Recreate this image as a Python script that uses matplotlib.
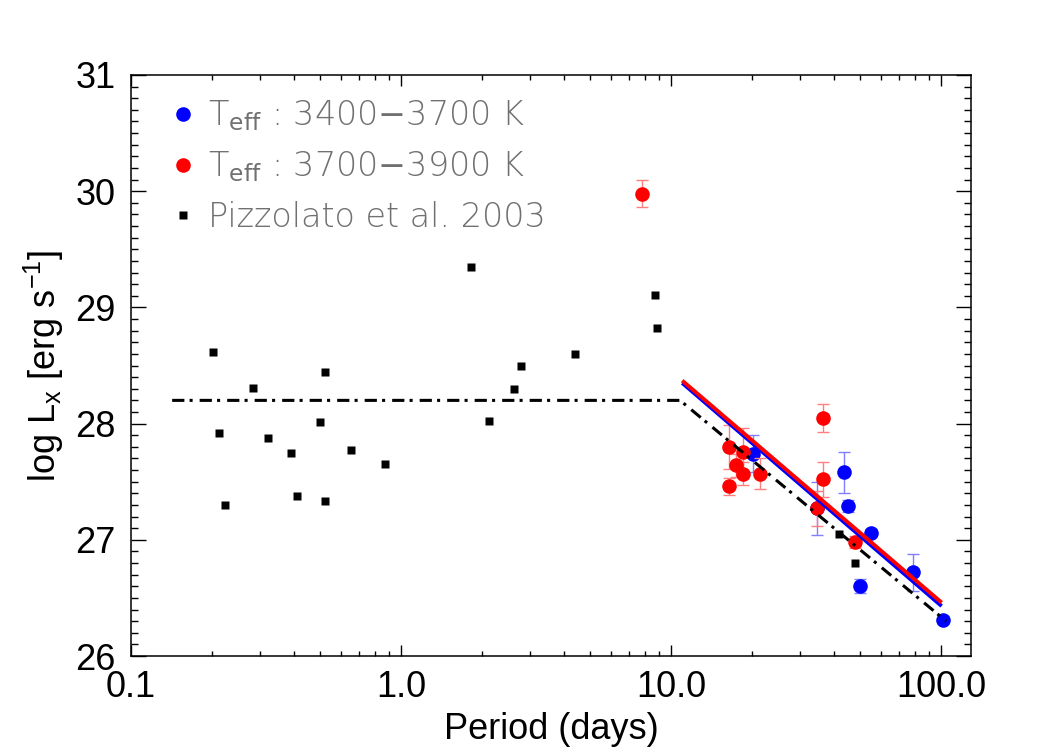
import numpy as np
import matplotlib
matplotlib.use("Agg")
import matplotlib.pyplot as plt
from matplotlib.lines import Line2D
from matplotlib.ticker import LogLocator, MultipleLocator, NullFormatter

plt.rcParams['font.family'] = ['Liberation Sans', 'DejaVu Sans']
plt.rcParams['mathtext.fontset'] = 'custom'
plt.rcParams['mathtext.rm'] = 'Liberation Sans'
plt.rcParams['mathtext.it'] = 'Liberation Sans:italic'

# Pizzolato et al. 2003 stars (period in days, log Lx)
piz_period = [0.202, 0.282, 0.211, 0.222, 0.321, 0.392, 0.413, 0.502, 0.524, 0.524,
              0.653, 0.875, 1.82, 2.12, 2.61, 2.79, 4.40, 8.75, 8.85, 42.0, 48.2]
piz_lx = [28.62, 28.31, 27.92, 27.30, 27.88, 27.75, 27.38, 28.01, 28.44, 27.33,
          27.77, 27.65, 29.35, 28.02, 28.30, 28.50, 28.60, 29.11, 28.82, 27.05, 26.80]

# Teff 3400-3700 K
blue_period = [20.2, 43.6, 45.1, 34.8, 55.1, 50.1, 78.5, 101.4]
blue_lx = [27.74, 27.58, 27.29, 27.27, 27.06, 26.60, 26.72, 26.31]
blue_err = [0.16, 0.18, 0.05, 0.23, 0.03, 0.06, 0.16, 0.03]

# Teff 3700-3900 K
red_period = [16.4, 16.4, 17.4, 18.5, 18.5, 21.3, 36.6, 36.6, 34.8, 48.2, 7.83]
red_lx = [27.80, 27.46, 27.64, 27.76, 27.57, 27.57, 28.05, 27.52, 27.27, 26.98, 29.98]
red_err = [0.19, 0.07, 0.10, 0.20, 0.10, 0.13, 0.12, 0.15, 0.15, 0.05, 0.12]

# relations
sat_period = [0.142, 10.8, 104.5]
sat_lx = [28.2, 28.2, 26.30]
bfit_period = [11.0, 100.5]
bfit_lx = [28.35, 26.43]
rfit_period = [11.0, 100.5]
rfit_lx = [28.37, 26.46]

fig = plt.figure(figsize=(10.5, 7.5), dpi=100)
ax = fig.add_axes([0.1248, 0.1253, 0.8, 0.7747])

ax.errorbar(blue_period, blue_lx, yerr=blue_err, fmt='none', ecolor='#7f7fff',
            elinewidth=1, capsize=4.5, capthick=1, zorder=2)
ax.plot(blue_period, blue_lx, 'o', color='#0000ff', ms=10.5, mec='none', zorder=3)
ax.errorbar(red_period, red_lx, yerr=red_err, fmt='none', ecolor='#ff7f7f',
            elinewidth=1, capsize=4.5, capthick=1, zorder=4)
ax.plot(red_period, red_lx, 'o', color='#ff0000', ms=10.5, mec='none', zorder=5)
ax.plot(piz_period, piz_lx, 's', color='black', ms=6, mec='none', zorder=6)

ax.plot(sat_period, sat_lx, color='black', lw=2.2, dashes=(4, 1.7, 1, 2.3), zorder=7)
ax.plot(bfit_period, bfit_lx, color='#0000ff', lw=2.8, solid_capstyle='butt', zorder=8)
ax.plot(rfit_period, rfit_lx, color='#ff0000', lw=2.8, solid_capstyle='butt', zorder=9)

ax.set_xscale('log')
ax.set_xlim(0.1, 10 ** (-1 + 840 / 270))
ax.set_ylim(26, 31)
ax.set_xticks([0.1, 1, 10, 100])
ax.set_xticklabels(['0.1', '1.0', '10.0', '100.0'])
ax.xaxis.set_minor_locator(LogLocator(base=10, subs=np.arange(2, 10)))
ax.xaxis.set_minor_formatter(NullFormatter())
ax.yaxis.set_major_locator(MultipleLocator(1))
ax.yaxis.set_minor_locator(MultipleLocator(0.1))

ax.tick_params(which='both', direction='in', top=True, right=True, width=1, labelsize=26)
ax.tick_params(axis='x', which='major', length=8, pad=10)
ax.tick_params(axis='x', which='minor', length=3.5)
ax.tick_params(axis='y', which='major', length=11, pad=11)
ax.tick_params(axis='y', which='minor', length=5)
for s in ax.spines.values():
    s.set_linewidth(1.1)

ax.set_xlabel('Period (days)', fontsize=26, labelpad=5)
ax.set_ylabel(r'log L$_{\rm x}$ [erg $\rm s^{-1}$]', fontsize=26, labelpad=7)

handles = [
    Line2D([], [], ls='none', marker='o', color='#0000ff', ms=10.5, mec='none'),
    Line2D([], [], ls='none', marker='o', color='#ff0000', ms=10.5, mec='none'),
    Line2D([], [], ls='none', marker='s', color='black', ms=6, mec='none'),
]
labels = [r'T$_{\rm eff}$ : 3400$-$3700 K', r'T$_{\rm eff}$ : 3700$-$3900 K',
          'Pizzolato et al. 2003']
leg = ax.legend(handles, labels, loc='upper left', bbox_to_anchor=(0.018, 1.0),
                frameon=False, handlelength=0.8, handletextpad=0.35,
                labelspacing=0.5, borderpad=0.2,
                prop={'family': ['DejaVu Sans'], 'weight': 'ultralight', 'size': 24})
for t in leg.get_texts():
    t.set_color('#707070')
    t.set_math_fontfamily('dejavusans')

fig.savefig('out.png', dpi=100)
